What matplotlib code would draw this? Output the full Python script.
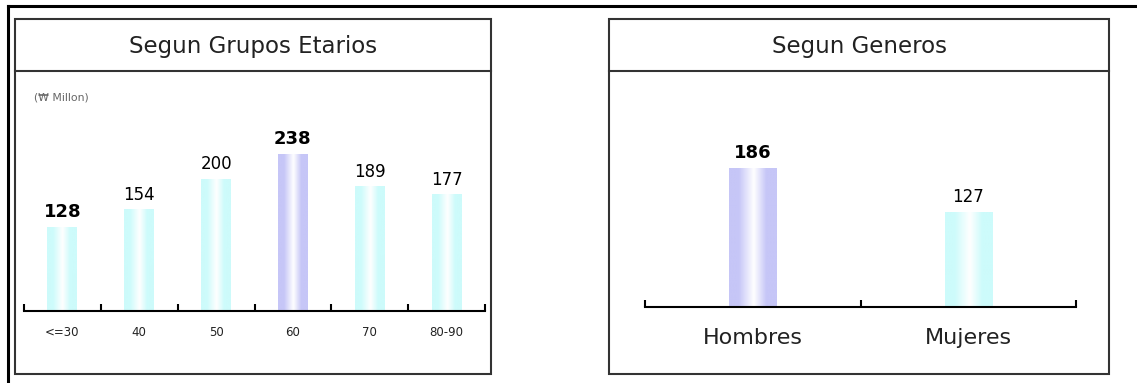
import numpy as np
import matplotlib
matplotlib.use("Agg")
import matplotlib.pyplot as plt
from matplotlib.colors import LinearSegmentedColormap
from matplotlib.patches import Rectangle

plt.rcParams['font.family'] = ['DejaVu Sans']

# data
age_groups = ["<=30", "40", "50", "60", "70", "80-90"]
age_values = [128, 154, 200, 238, 189, 177]
age_bold = [True, False, False, True, False, False]
age_highlight = [False, False, False, True, False, False]

genders = ["Hombres", "Mujeres"]
gender_values = [186, 127]
gender_bold = [True, False]
gender_highlight = [True, False]

W, H = 1137, 383
CYAN = "#cdfbfb"
PURPLE = "#c6c6f7"


def frac(x0, y_top, x1, y_bottom):
    # pixel box -> figure fraction rect
    return [x0 / W, 1 - y_bottom / H, (x1 - x0) / W, (y_bottom - y_top) / H]


def gradient_bar(ax, bar, color):
    cmap = LinearSegmentedColormap.from_list(
        "cyl", [(0, color), (0.2, color), (0.52, "white"), (0.78, color), (1, color)])
    grad = np.linspace(0, 1, 64).reshape(1, -1)
    x, y = bar.get_x(), bar.get_y()
    w, h = bar.get_width(), bar.get_height()
    im = ax.imshow(grad, cmap=cmap, aspect="auto", extent=[x, x + w, y, y + h],
                   zorder=2, interpolation="bicubic")
    im.set_clip_path(bar)


def bar_chart(ax, labels, values, bold, highlight, xmax, ymax, width,
              vsize, bsize, lsize, label_pad):
    pos = np.arange(len(labels)) + 0.5
    bars = ax.bar(pos, values, width=width, color="none", edgecolor="none", zorder=2)
    for b, hl in zip(bars, highlight):
        gradient_bar(ax, b, PURPLE if hl else CYAN)
    for p, v, bd in zip(pos, values, bold):
        ax.annotate(str(v), (p, v), xytext=(0, 4), textcoords="offset points",
                    ha="center", va="bottom", fontsize=bsize if bd else vsize,
                    fontweight="bold" if bd else "normal", color="black")
    ax.set_xlim(0, xmax)
    ax.set_ylim(0, ymax)
    for s in ["top", "left", "right"]:
        ax.spines[s].set_visible(False)
    ax.spines["bottom"].set_linewidth(1.5)
    ax.set_yticks([])
    ax.set_xticks(np.arange(0, xmax + 1))
    ax.set_xticklabels([])
    ax.tick_params(axis="x", which="major", direction="in", length=5, width=1.5)
    ax.set_xticks(pos, minor=True)
    ax.set_xticklabels(labels, minor=True, fontsize=lsize, color="#222222")
    ax.tick_params(axis="x", which="minor", length=0, pad=label_pad)
    ax.patch.set_alpha(0)


fig = plt.figure(figsize=(W / 100, H / 100), dpi=100)

# frames and titles
bg = fig.add_axes([0, 0, 1, 1])
bg.set_xlim(0, W)
bg.set_ylim(H, 0)
bg.axis("off")
bg.plot([8, W], [6, 6], color="black", lw=2.2)
bg.plot([8, 8], [6, H], color="black", lw=2.2)
for x0, x1 in [(15, 491), (609, 1109)]:
    bg.add_patch(Rectangle((x0, 19), x1 - x0, 355, fill=False, ec="#333333", lw=1.5))
    bg.plot([x0, x1], [71, 71], color="#333333", lw=1.5)
bg.text(253, 46, "Segun Grupos Etarios", ha="center", va="center", fontsize=16.5, color="#222222")
bg.text(859, 46, "Segun Generos", ha="center", va="center", fontsize=16.5, color="#222222")
bg.text(34, 98, "(\u20a9 Millon)", ha="left", va="center", fontsize=7.8, color="#666666")

# left chart: age groups (0.66 px per unit)
ax1 = fig.add_axes(frac(24, 80, 485, 311))
bar_chart(ax1, age_groups, age_values, age_bold, age_highlight,
          xmax=6, ymax=231 / 0.66, width=0.39, vsize=12, bsize=13, lsize=8.5, label_pad=11)

# right chart: genders (0.75 px per unit)
ax2 = fig.add_axes(frac(645, 80, 1076, 307))
bar_chart(ax2, genders, gender_values, gender_bold, gender_highlight,
          xmax=2, ymax=227 / 0.75, width=0.22, vsize=12, bsize=13, lsize=16, label_pad=15)

fig.savefig("out.png", dpi=100)
